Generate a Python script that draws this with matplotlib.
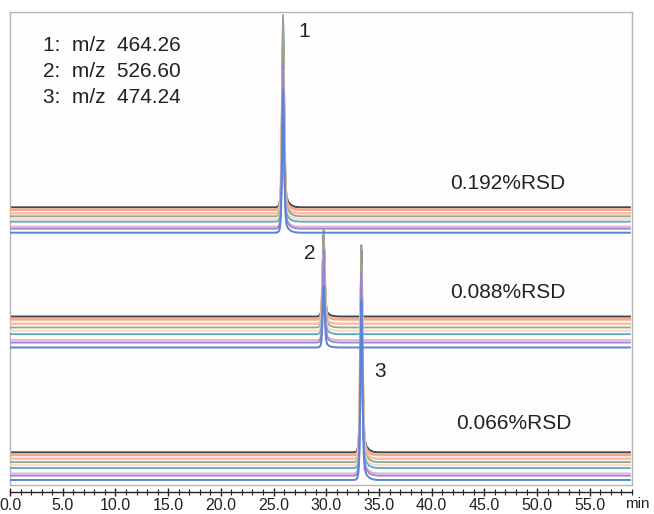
import matplotlib
matplotlib.use("Agg")
import matplotlib.pyplot as plt
import numpy as np
from matplotlib.ticker import MultipleLocator, FormatStrFormatter

plt.rcParams['font.family'] = ['Liberation Sans', 'DejaVu Sans']

# ---- data ----
trace_names = ["black", "salmon1", "salmon2", "green", "peach", "teal", "pink", "purple", "blue"]
trace_colors = ["#3b4a4c", "#f5a88a", "#f8c0a6", "#93a88e", "#f9dcc6", "#58abc4", "#dcb0d8", "#9b86c6", "#5b84d6"]

retention_times = [25.9, 29.75, 33.33]          # min, peaks 1, 2, 3
peak_labels = ["1", "2", "3"]
rsd_labels = ["0.192%RSD", "0.088%RSD", "0.066%RSD"]
mz_labels = ["1:  m/z  464.26", "2:  m/z  526.60", "3:  m/z  474.24"]

# baseline level of each trace in each group (signal units)
baseline_g1 = [58.71, 58.20, 57.44, 56.81, 56.24, 55.67, 54.61, 54.19, 53.34]
baseline_g2 = [35.62, 35.01, 34.08, 33.30, 32.60, 31.90, 30.61, 30.11, 29.07]
baseline_g3 = [6.91, 6.36, 5.54, 4.84, 4.23, 3.59, 2.43, 1.97, 1.06]

# apex level of each trace in each group (signal units)
apex_g1 = [98.31, 91.54, 90.91, 99.37, 87.74, 86.68, 85.62, 89.43, 83.51]
apex_g2 = [52.85, 50.74, 50.11, 53.91, 48.63, 47.99, 47.15, 49.68, 41.86]
apex_g3 = [49.68, 46.51, 45.88, 50.74, 44.40, 43.76, 42.92, 44.82, 39.11]

# peak profile: time offset from apex (min) and fraction of apex height
profile_dt = [-0.7, -0.5, -0.38, -0.28, -0.2, -0.13, -0.06, 0.0, 0.06, 0.13, 0.22, 0.32, 0.48, 0.75, 1.1, 1.6]
profile_frac = [0.0, 0.003, 0.012, 0.04, 0.12, 0.35, 0.75, 1.0, 0.8, 0.4, 0.15, 0.06, 0.03, 0.012, 0.003, 0.0]

run_start, run_end = 0.1, 58.8
x_ticks = [0, 5, 10, 15, 20, 25, 30, 35, 40, 45, 50, 55]

baselines = [baseline_g1, baseline_g2, baseline_g3]
apexes = [apex_g1, apex_g2, apex_g3]

# ---- figure ----
W, H = 654, 514
fig = plt.figure(figsize=(W / 100, H / 100), dpi=100)
fig.patch.set_facecolor("white")

left, right = 10 / W, 632 / W
box_bottom, box_top = (H - 485) / H, (H - 12) / H
ax = fig.add_axes([left, box_bottom, right - left, box_top - box_bottom])
ax.set_facecolor("#fffdfd")
ax.set_xlim(0, 59)
ax.set_ylim(0, 100)
ax.set_xticks([])
ax.set_yticks([])
for s in ax.spines.values():
    s.set_color("#b5b5b5")
    s.set_linewidth(1.0)

lws = [1.4, 1.9, 1.9, 1.3, 1.7, 1.3, 1.4, 1.3, 1.4]
for g in range(3):
    rt = retention_times[g]
    for i in range(len(trace_names)):
        b = baselines[g][i]
        a = apexes[g][i]
        xs = [run_start] + [rt + d for d in profile_dt] + [run_end]
        ys = [b] + [b + f * (a - b) for f in profile_frac] + [b]
        ax.plot(xs, ys, color=trace_colors[i], lw=lws[i], solid_joinstyle="round", zorder=2 + i)

txt = dict(fontsize=15, color="#222222")
for k, lab in enumerate(mz_labels):
    ax.text(3.1, 93.0 - 5.5 * k, lab, ha="left", va="center", **txt)

ax.text(27.9, 95.8, peak_labels[0], ha="center", va="center", **txt)
ax.text(28.4, 49.0, peak_labels[1], ha="center", va="center", **txt)
ax.text(35.1, 23.9, peak_labels[2], ha="center", va="center", **txt)

ax.text(47.2, 63.8, rsd_labels[0], ha="center", va="center", **txt)
ax.text(47.2, 40.6, rsd_labels[1], ha="center", va="center", **txt)
ax.text(47.8, 12.9, rsd_labels[2], ha="center", va="center", **txt)

# ---- separate time axis below the box ----
axt = fig.add_axes([left, (H - 492) / H, right - left, 0.0001])
axt.set_xlim(0, 59)
axt.patch.set_visible(False)
for side in ["top", "left", "right"]:
    axt.spines[side].set_visible(False)
axt.spines["bottom"].set_color("#222222")
axt.spines["bottom"].set_linewidth(1.0)
axt.set_yticks([])
axt.set_xticks(x_ticks)
axt.xaxis.set_major_formatter(FormatStrFormatter("%.1f"))
axt.xaxis.set_minor_locator(MultipleLocator(1))
axt.tick_params(axis="x", which="major", direction="inout", length=6, width=1.0,
                color="#222222", labelsize=11.5, labelcolor="#222222", pad=1)
axt.tick_params(axis="x", which="minor", direction="inout", length=4, width=0.8, color="#222222")

fig.text(650 / W, (H - 504) / H, "min", ha="right", va="center", fontsize=11, color="#222222")

fig.savefig("out.png", dpi=100)
